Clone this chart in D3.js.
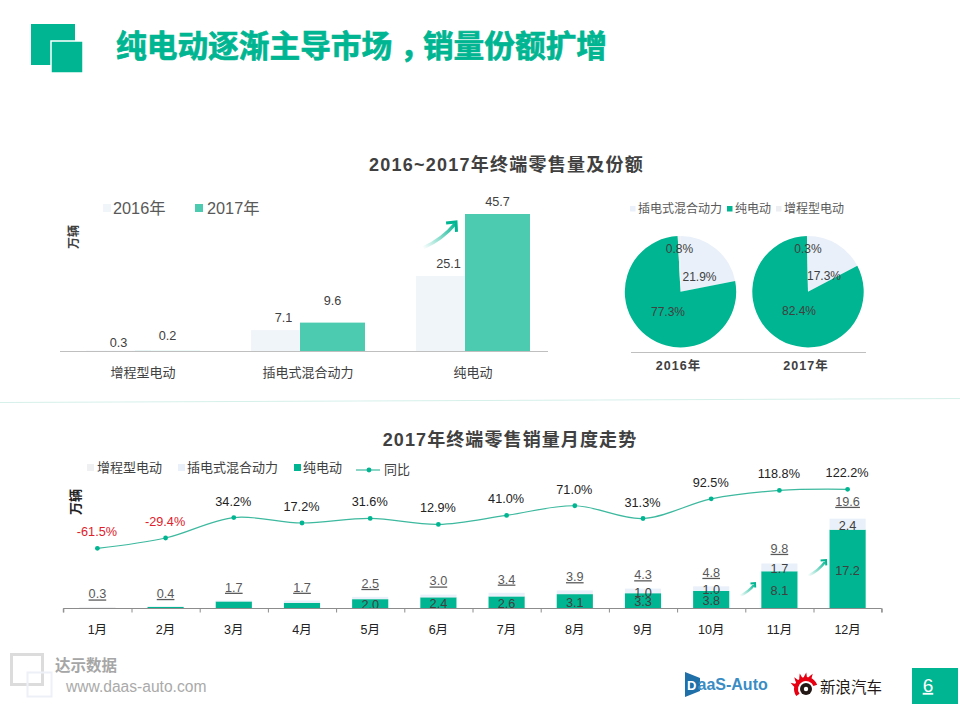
<!doctype html>
<html lang="zh">

<head>
  <title>纯电动逐渐主导市场，销量份额扩增</title>
  <meta charset="utf-8" />
  <script src="https://d3js.org/d3.v7.min.js"></script>
  <style>
    html, body { margin: 0; padding: 0; background: #fff; }
    svg { display: block; }
    text { font-family: "Liberation Sans", "Noto Sans CJK SC", sans-serif; }
    .cjk { font-family: "Noto Sans CJK SC", sans-serif; }
  </style>
</head>

<body>
  <svg id="page" width="960" height="720"></svg>

  <script>
    // annual retail volume
    const annualCategories = ["增程型电动", "插电式混合动力", "纯电动"];
    const annualYears = ["2016年", "2017年"];
    const annual2016 = [0.3, 7.1, 25.1];
    const annual2017 = [0.2, 9.6, 45.7];

    // share pies
    const shareNames = ["插电式混合动力", "纯电动", "增程型电动"];
    const share2016 = [21.9, 77.3, 0.8];
    const share2017 = [17.3, 82.4, 0.3];

    // monthly retail volume
    const months = ["1月", "2月", "3月", "4月", "5月", "6月", "7月", "8月", "9月", "10月", "11月", "12月"];
    const monthlyEv = [0, 0.3, 1.5, 1.2, 2.0, 2.4, 2.6, 3.1, 3.3, 3.8, 8.1, 17.2];
    const monthlyPhev = [0.1, 0.1, 0.2, 0.5, 0.5, 0.6, 0.8, 0.8, 1.0, 1.0, 1.7, 2.4];
    const monthlyRange = [0.2, 0, 0, 0, 0, 0, 0, 0, 0, 0, 0, 0];
    const monthlyTotal = [0.3, 0.4, 1.7, 1.7, 2.5, 3.0, 3.4, 3.9, 4.3, 4.8, 9.8, 19.6];
    const monthlyYoy = [-61.5, -29.4, 34.2, 17.2, 31.6, 12.9, 41.0, 71.0, 31.3, 92.5, 118.8, 122.2];

    const GREEN = "#00b591";
    const GREEN_SOFT = "#4ccbb0";
    const PALE = "#f0f5fa";
    const PALE_BLUE = "#e9f0f9";
    const GREY_PALE = "#eef0f2";
    const TEXT = "#404040";

    const svg = d3.select("#page");
    const defs = svg.append("defs");

    /* write one piece of text */
    function label(parent, x, y, str, opts = {}) {
      return parent.append("text")
        .attr("x", x)
        .attr("y", y)
        .attr("dy", "0.36em")
        .attr("text-anchor", opts.anchor || "middle")
        .attr("font-size", opts.size || 12.7)
        .attr("font-weight", opts.weight || "normal")
        .attr("fill", opts.fill || TEXT)
        .text(str);
    }

    /* small gradient swoosh with an arrow head */
    function swoosh(x0, y0, x1, y1, id) {
      const grad = defs.append("linearGradient")
        .attr("id", id)
        .attr("gradientUnits", "userSpaceOnUse")
        .attr("x1", x0).attr("y1", y0)
        .attr("x2", x1).attr("y2", y1);
      grad.append("stop").attr("offset", 0).attr("stop-color", GREEN).attr("stop-opacity", 0);
      grad.append("stop").attr("offset", 1).attr("stop-color", GREEN).attr("stop-opacity", 1);

      const w = x1 - x0;
      const h = y0 - y1;
      const head = w * 0.3;
      svg.append("path")
        .attr("d", `M${x0},${y0} Q${x0 + w * 0.6},${y0 - h * 0.35} ${x1 - 1},${y1 + 2}`)
        .attr("fill", "none")
        .attr("stroke", `url(#${id})`)
        .attr("stroke-width", w > 25 ? 3.5 : 2.5);
      svg.append("path")
        .attr("d", `M${x1 - head},${y1 + head * 0.1} L${x1},${y1} L${x1 + head * 0.05},${y1 + head}`)
        .attr("fill", "none")
        .attr("stroke", GREEN)
        .attr("stroke-width", w > 25 ? 3 : 2);
    }

    function drawHeader() {
      svg.append("rect").attr("x", 31).attr("y", 24).attr("width", 44).attr("height", 41).attr("fill", GREEN);
      svg.append("rect").attr("x", 51).attr("y", 41).attr("width", 32).attr("height", 32)
        .attr("fill", GREEN).attr("stroke", "#fff").attr("stroke-width", 1.5);

      const title = label(svg, 116, 46, "", { anchor: "start", size: 30.7, weight: 700, fill: GREEN })
        .attr("class", "cjk")
        .attr("stroke", GREEN)
        .attr("stroke-width", 0.7);
      title.append("tspan").text("纯电动逐渐主导市场");
      // the slide's comma sits in the middle of its cell
      title.append("tspan").attr("dx", 8).text("，");
      title.append("tspan").attr("dx", -8).text("销量份额扩增");

      label(svg, 506.5, 165, "2016~2017年终端零售量及份额", { size: 18, weight: 700 }).attr("letter-spacing", 1.25);
      label(svg, 510, 440, "2017年终端零售销量月度走势", { size: 18, weight: 700 }).attr("letter-spacing", 1.1);

      svg.append("line")
        .attr("x1", 0).attr("y1", 402.5).attr("x2", 960).attr("y2", 398.5)
        .attr("stroke", "#d6f0ea").attr("stroke-width", 1);
    }

    /* grouped, overlapping bars of the yearly totals */
    function drawAnnualBars() {
      const g = svg.append("g");
      const x = d3.scaleBand().domain(annualCategories).range([60.5, 555.5]);
      const y = d3.scaleLinear().domain([0, 45.7]).range([351.5, 214]);
      const barW = 65;
      const lift = [[8, 15], [13, 22], [13, 13]]; // label gap over each bar, as in the slide

      annualCategories.forEach((c, i) => {
        const cx = x(c) + x.bandwidth() / 2;
        g.append("rect").attr("x", cx - 57).attr("y", y(annual2016[i]))
          .attr("width", barW).attr("height", y(0) - y(annual2016[i])).attr("fill", PALE);
        g.append("rect").attr("x", cx - 8).attr("y", y(annual2017[i]))
          .attr("width", barW).attr("height", y(0) - y(annual2017[i])).attr("fill", GREEN_SOFT);
        label(g, cx - 24.5, y(annual2016[i]) - lift[i][0], annual2016[i].toFixed(1));
        label(g, cx + 24.5, y(annual2017[i]) - lift[i][1], annual2017[i].toFixed(1));
        label(g, cx, 372, c, { size: 13 });
      });

      g.append("line").attr("x1", 60).attr("x2", 548).attr("y1", 351.5).attr("y2", 351.5)
        .attr("stroke", "#bfbfbf");

      label(g, 74, 237, "万辆", { size: 12, weight: 700 })
        .attr("transform", "rotate(-90 74 237)");

      [[103, 113, annualYears[0], PALE], [195, 207, annualYears[1], GREEN_SOFT]].forEach(([lx, tx, name, color]) => {
        g.append("rect").attr("x", lx).attr("y", 204).attr("width", 8).attr("height", 8).attr("fill", color);
        label(g, tx, 208, name, { anchor: "start", size: 16.3, fill: "#595959" });
      });
    }

    /* one pie per year, starting at 12 o'clock */
    function drawPies() {
      const g = svg.append("g");
      const colors = d3.scaleOrdinal().domain(shareNames).range([PALE_BLUE, GREEN, "#eceef1"]);
      const pie = d3.pie().sort(null).value(d => d.value);
      const arc = d3.arc().innerRadius(0).outerRadius(55.7);

      const years = [
        { name: annualYears[0], values: share2016, cx: 680.5, labelAt: [[19, -15], [-12.5, 20], [-1, -43]] },
        { name: annualYears[1], values: share2017, cx: 808, labelAt: [[16, -16], [-9, 19], [0, -43]] }
      ];

      years.forEach(year => {
        const rows = shareNames.map((n, i) => ({ name: n, value: year.values[i] }));
        const pieG = g.append("g").attr("transform", `translate(${year.cx},291.7)`);
        pieG.selectAll("path")
          .data(pie(rows))
          .enter()
          .append("path")
          .attr("d", arc)
          .attr("fill", d => colors(d.data.name));
        rows.forEach((r, i) => {
          label(pieG, year.labelAt[i][0], year.labelAt[i][1], r.value.toFixed(1) + "%", { size: 12 });
        });
        label(g, year.cx - 2, 365, year.name, { weight: 700, size: 12.5 }).attr("letter-spacing", 1);
      });

      g.append("line").attr("x1", 631).attr("x2", 866).attr("y1", 352.5).attr("y2", 352.5)
        .attr("stroke", "#bfbfbf");

      [630, 727, 776].forEach((lx, i) => {
        g.append("rect").attr("x", lx).attr("y", 206).attr("width", 5.5).attr("height", 5.5)
          .attr("fill", colors(shareNames[i]));
        label(g, lx + 8, 209, shareNames[i], { anchor: "start", size: 12, fill: "#595959" });
      });
    }

    /* stacked monthly bars with the year-on-year line above them */
    function drawMonthly() {
      const g = svg.append("g");
      const x = d3.scaleBand().domain(months).range([63.3, 881.7]).paddingInner(0.47).paddingOuter(0.235);
      const centre = m => x(m) + x.bandwidth() / 2;
      const y = d3.scaleLinear().domain([0, 19.6]).range([608.3, 518.7]);
      const yTotal = d3.scaleLinear().domain([0, 20]).range([595.3, 499.3]);
      const yYoy = d3.scaleLinear().domain([-61.5, 122.2]).range([548.3, 489.3]);

      const rows = months.map((m, i) => ({
        month: m, ev: monthlyEv[i], phev: monthlyPhev[i], range: monthlyRange[i]
      }));
      const layers = d3.stack().keys(["ev", "phev", "range"])(rows);
      const fill = { ev: GREEN, phev: PALE_BLUE, range: GREY_PALE };

      layers.forEach(layer => {
        g.selectAll(null)
          .data(layer)
          .enter()
          .append("rect")
          .attr("x", d => x(d.data.month))
          .attr("y", d => y(d[1]))
          .attr("width", x.bandwidth())
          .attr("height", d => y(d[0]) - y(d[1]))
          .attr("fill", fill[layer.key]);
      });

      // segment values, only where the slide shows them
      rows.forEach((r, i) => {
        if (r.ev >= 2) label(g, centre(r.month), y(r.ev / 2) + 1, r.ev.toFixed(1));
        if (r.phev >= 1) label(g, centre(r.month), y(r.ev + r.phev / 2) + 1, r.phev.toFixed(1));
        label(g, centre(r.month), yTotal(monthlyTotal[i]), monthlyTotal[i].toFixed(1), { fill: "#595959" })
          .attr("text-decoration", "underline");
      });

      const axis = d3.axisBottom(d3.scaleLinear().domain([0, 12]).range([63.3, 881.7]))
        .ticks(12).tickSize(4).tickFormat("");
      const axisG = g.append("g").attr("transform", "translate(0,608.5)").call(axis);
      axisG.selectAll("path, line").attr("stroke", "#8c8c8c");
      axisG.select(".domain").attr("d", "M63.3,4V0H881.7V4");

      months.forEach(m => label(g, centre(m), 629, m, { size: 12.5, fill: "#222" }));

      const line = d3.line()
        .x((d, i) => centre(months[i]))
        .y(d => yYoy(d))
        .curve(d3.curveCatmullRom);
      g.append("path").attr("d", line(monthlyYoy))
        .attr("fill", "none").attr("stroke", "#3cb99e").attr("stroke-width", 1.2);
      g.selectAll("circle")
        .data(monthlyYoy)
        .enter()
        .append("circle")
        .attr("cx", (d, i) => centre(months[i]))
        .attr("cy", d => yYoy(d))
        .attr("r", 2.4)
        .attr("fill", GREEN);
      monthlyYoy.forEach((v, i) => {
        label(g, centre(months[i]) - 0.5, yYoy(v) - 16.5, v.toFixed(1) + "%", { fill: v < 0 ? "#e0202a" : "#222" });
      });

      label(g, 75, 502, "万辆", { size: 13, weight: 700, fill: "#222" })
        .attr("transform", "rotate(-90 75 502)");

      [[87, 97, "增程型电动", GREY_PALE], [178, 187, "插电式混合动力", PALE_BLUE], [294, 303, "纯电动", GREEN]]
        .forEach(([lx, tx, name, color]) => {
          g.append("rect").attr("x", lx).attr("y", 464).attr("width", 7).attr("height", 7).attr("fill", color);
          label(g, tx, 467.5, name, { anchor: "start", size: 13, fill: "#404040" });
        });
      g.append("line").attr("x1", 356).attr("x2", 380).attr("y1", 470).attr("y2", 470)
        .attr("stroke", "#3cb99e").attr("stroke-width", 1.2);
      g.append("circle").attr("cx", 369).attr("cy", 470).attr("r", 2.4).attr("fill", GREEN);
      label(g, 384, 469.5, "同比", { anchor: "start", size: 13, fill: "#404040" });
    }

    function drawFooter() {
      svg.append("rect").attr("x", 11.5).attr("y", 654.5).attr("width", 31).attr("height", 30)
        .attr("fill", "none").attr("stroke", "#dcdcdc").attr("stroke-width", 3);
      svg.append("rect").attr("x", 27.5).attr("y", 672.5).attr("width", 24).attr("height", 24)
        .attr("fill", "none").attr("stroke", "#eef0f8").attr("stroke-width", 2);
      label(svg, 55, 665, "达示数据", { anchor: "start", size: 15.5, weight: 700, fill: "#a6a6a6" });
      label(svg, 66, 686, "www.daas-auto.com", { anchor: "start", size: 15.6, fill: "#aaaaaa" });

      // DaaS-Auto mark
      svg.append("path").attr("d", "M685,672 L700,678 V691 L685,697 Z").attr("fill", "#1f6fa8");
      label(svg, 687, 685, "D", { anchor: "start", size: 13, weight: 700, fill: "#fff" });
      label(svg, 697.5, 684, "aaS-Auto", { anchor: "start", size: 16, weight: 700, fill: "#3a8cc4" });

      // Sina eye mark: flames, crescent, pupil
      const eye = svg.append("g").attr("transform", "translate(806,689)");
      d3.range(-75, 40, 23).forEach(a => {
        eye.append("path")
          .attr("d", "M-2.2,-9 Q-1,-13 2,-16.5 Q2,-12 2.6,-9 Z")
          .attr("fill", "#e60012")
          .attr("transform", `rotate(${a})`);
      });
      eye.append("path")
        .attr("d", d3.arc().innerRadius(8).outerRadius(12)({ startAngle: -2.2, endAngle: 1.2 }))
        .attr("fill", "#e60012");
      eye.append("circle").attr("r", 6).attr("fill", "#231815");
      eye.append("circle").attr("r", 2.2).attr("fill", "#fff");
      label(svg, 820, 687.5, "新浪汽车", { anchor: "start", size: 15.5, weight: 400, fill: "#231815" });

      // page number
      svg.append("rect").attr("x", 912).attr("y", 668).attr("width", 46).attr("height", 36).attr("fill", GREEN);
      label(svg, 928, 685, "6", { size: 19, fill: "#fff" }).attr("text-decoration", "underline");
    }

    drawHeader();
    drawAnnualBars();
    drawPies();
    drawMonthly();
    swoosh(423, 248, 456, 222, "arrow1");
    swoosh(740, 596, 755, 583, "arrow2");
    swoosh(808, 576, 826, 560, "arrow3");
    drawFooter();
  </script>

</body></html>
